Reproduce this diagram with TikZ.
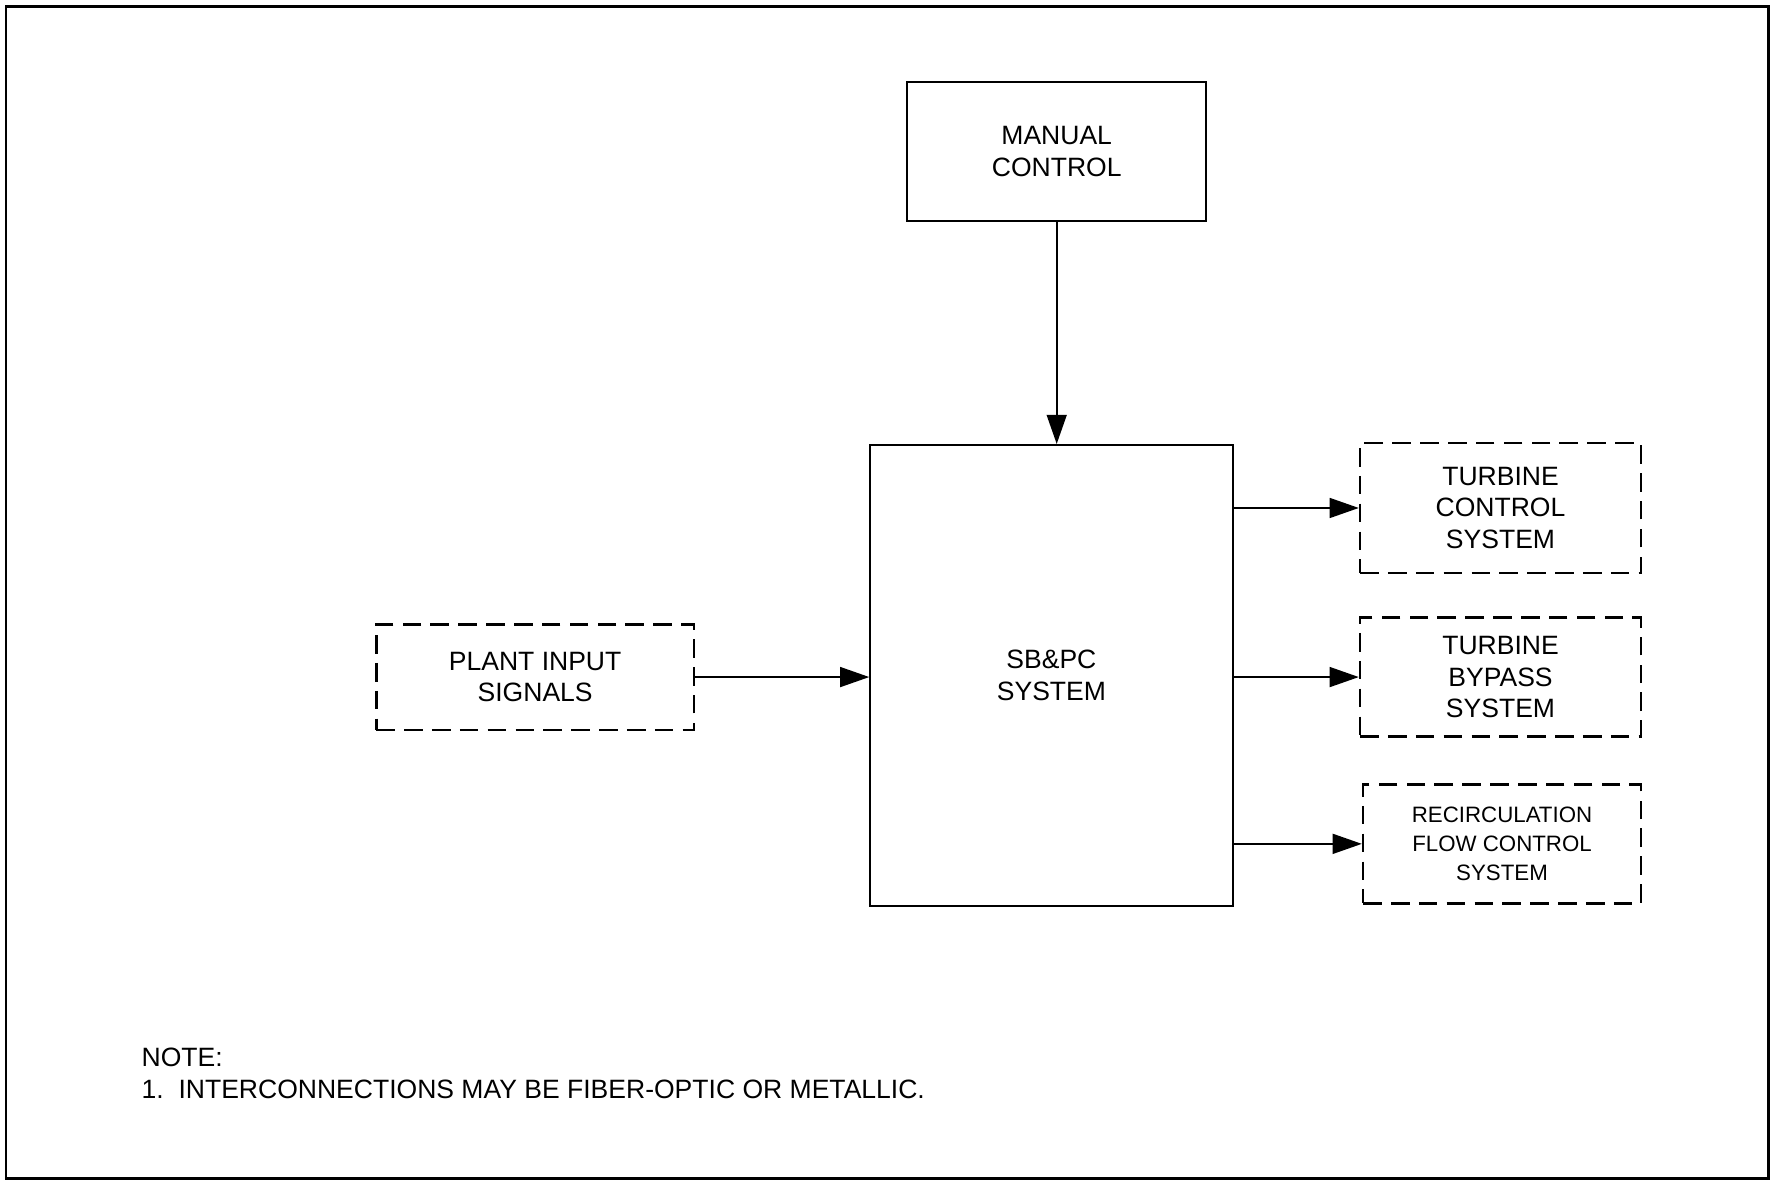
\documentclass[tikz,border=0pt]{standalone}
\usepackage{fontspec}
\setmainfont{Liberation Sans}
\usepackage{tikz}
\usetikzlibrary{arrows.meta}

\tikzset{
	blk/.style={draw, line width=0.75pt, align=center, inner sep=0pt, font=\fontsize{10}{12}\selectfont},
	ext/.style={blk, line width=1pt, dash pattern=on 7pt off 3.5pt},
	sig/.style={line width=0.75pt, -{Triangle[length=11pt,width=7.5pt]}}
}

\begin{document}
\begin{tikzpicture}
	\useasboundingbox (0,0) rectangle (23.49,-15.67);
	\draw[line width=1.1pt] (0.08,-0.08) rectangle (23.43,-15.61);

	\node[blk, minimum width=3.96cm, minimum height=1.84cm] (manual) at (14.00,-2.01) {MANUAL\\CONTROL};
	\node[blk, minimum width=4.80cm, minimum height=6.11cm] (sbpc) at (13.93,-8.95) {SB\&PC\\SYSTEM};
	\node[ext, minimum width=4.21cm, minimum height=1.40cm] (plant) at (7.09,-8.97) {PLANT INPUT\\SIGNALS};
	\node[ext, minimum width=3.72cm, minimum height=1.72cm] (tcs) at (19.88,-6.73) {TURBINE\\CONTROL\\SYSTEM};
	\node[ext, minimum width=3.72cm, minimum height=1.58cm] (tbs) at (19.88,-8.97) {TURBINE\\BYPASS\\SYSTEM};
	\node[ext, minimum width=3.68cm, minimum height=1.58cm, font=\fontsize{8.4}{11}\selectfont] (rfc) at (19.90,-11.18) {RECIRCULATION\\FLOW CONTROL\\SYSTEM};

	\draw[sig] (manual.south) -- (manual.south |- sbpc.north);
	\draw[sig] (plant.east) -- (sbpc.west |- plant.east);
	\draw[sig] (sbpc.east |- tcs.west) -- (tcs.west);
	\draw[sig] (sbpc.east |- tbs.west) -- (tbs.west);
	\draw[sig] (sbpc.east |- rfc.west) -- (rfc.west);

	\node[anchor=west, align=left, inner sep=0pt, font=\fontsize{10}{12}\selectfont] (note) at (1.87,-14.22) {NOTE:\\1.\ \ INTERCONNECTIONS MAY BE FIBER-OPTIC OR METALLIC.};
\end{tikzpicture}
\end{document}
